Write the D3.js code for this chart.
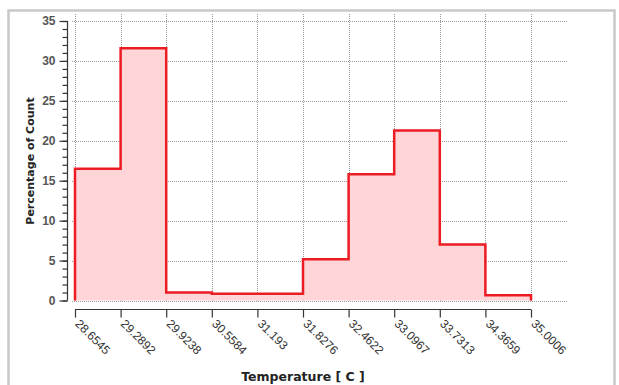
<!DOCTYPE html>
<html>
<head>
<meta charset="utf-8">
<script src="https://cdn.jsdelivr.net/npm/d3@7"></script>
<style>
    body { margin: 0; background: #fff; }
    svg { display: block; font-family: "DejaVu Sans", Verdana, sans-serif; }
</style>
</head>
<body>
<div id="chart"></div>
<script>
// bin edges (Temperature [ C ])
const binEdges = [28.6545, 29.2892, 29.9238, 30.5584, 31.193, 31.8276, 32.4622, 33.0967, 33.7313, 34.3659, 35.0006];
const edgeLabels = ['28.6545', '29.2892', '29.9238', '30.5584', '31.193', '31.8276', '32.4622', '33.0967', '33.7313', '34.3659', '35.0006'];
// percentage of count per bin
const percents = [16.5, 31.6, 1.0, 0.85, 0.85, 5.15, 15.8, 21.3, 7.0, 0.65];
const yTicks = [0, 5, 10, 15, 20, 25, 30, 35];

const width = 619, height = 385;

const svg = d3.select('#chart').append('svg')
    .attr('width', width)
    .attr('height', height);

// outer frame
svg.append('rect')
    .attr('x', 8.5).attr('y', 10.5)
    .attr('width', 606).attr('height', 390)
    .attr('fill', 'none')
    .attr('stroke', '#c8c8c8')
    .attr('stroke-width', 2.5);

const x = d3.scaleLinear()
    .domain([binEdges[0], binEdges[binEdges.length - 1]])
    .range([75, 531]);

const y = d3.scaleLinear()
    .domain([0, 35])
    .range([300.5, 21]);

// grid
const grid = svg.append('g')
    .attr('stroke', '#9a9a9a')
    .attr('stroke-width', 1)
    .attr('stroke-dasharray', '1,1');

grid.selectAll('.hgrid')
    .data(yTicks)
    .enter().append('line')
    .attr('x1', 72).attr('x2', 568)
    .attr('y1', d => Math.round(y(d)) + 0.5)
    .attr('y2', d => Math.round(y(d)) + 0.5);

grid.selectAll('.vgrid')
    .data(binEdges)
    .enter().append('line')
    .attr('x1', d => Math.round(x(d)) + 0.5)
    .attr('x2', d => Math.round(x(d)) + 0.5)
    .attr('y1', 14).attr('y2', 302);

// histogram step area
const pts = [[binEdges[0], 0]];
percents.forEach((p, i) => {
    pts.push([binEdges[i], p]);
    pts.push([binEdges[i + 1], p]);
});
pts.push([binEdges[binEdges.length - 1], 0]);

const area = d3.area()
    .x(d => x(d[0]))
    .y0(y(0))
    .y1(d => y(d[1]));

const line = d3.line()
    .x(d => x(d[0]))
    .y(d => y(d[1]));

svg.append('path')
    .datum(pts)
    .attr('d', area)
    .attr('fill', '#ffd5d7');

svg.append('path')
    .datum(pts)
    .attr('d', line)
    .attr('fill', 'none')
    .attr('stroke', '#ec1c24')
    .attr('stroke-width', 2.5);

// y axis
const yAxis = svg.append('g')
    .attr('transform', 'translate(67.5,0)')
    .call(d3.axisLeft(y).tickValues(yTicks).tickSize(8).tickFormat(d3.format('d')).tickPadding(4));
svg.append('g')
    .attr('transform', 'translate(67.5,0)')
    .call(d3.axisLeft(y).tickValues(d3.range(0, 36, 1)).tickSize(5).tickFormat(''))
    .call(g => g.select('.domain').remove());
yAxis.select('.domain').attr('d', `M0,${y(35)}V${y(0)}`);
svg.selectAll('.tick line, .domain').attr('stroke', '#333').attr('stroke-width', 1.2);
yAxis.selectAll('text')
    .attr('fill', '#555')
    .attr('font-size', 12)
    .attr('font-weight', 'bold');

// x axis
const xAxis = svg.append('g')
    .attr('transform', 'translate(0,309.5)')
    .call(d3.axisBottom(x).tickValues(binEdges).tickSize(8).tickFormat((d, i) => edgeLabels[i]));
xAxis.select('.domain').attr('d', `M${x(binEdges[0])},0H${x(binEdges[binEdges.length - 1])}`)
    .attr('stroke', '#333').attr('stroke-width', 1.2);
xAxis.selectAll('.tick line').attr('stroke', '#333').attr('stroke-width', 1.2);
xAxis.selectAll('text')
    .attr('fill', '#333')
    .attr('font-size', 12)
    .attr('text-anchor', 'start')
    .attr('dy', null)
    .attr('y', 0)
    .attr('transform', 'translate(-1,15) rotate(45)');

// axis titles
svg.append('text')
    .attr('transform', 'translate(34,161) rotate(-90)')
    .attr('text-anchor', 'middle')
    .attr('font-size', 11)
    .attr('font-weight', 'bold')
    .attr('fill', '#222')
    .text('Percentage of Count');

svg.append('text')
    .attr('x', 303).attr('y', 381)
    .attr('text-anchor', 'middle')
    .attr('font-size', 12.5)
    .attr('font-weight', 'bold')
    .attr('fill', '#222')
    .text('Temperature [ C ]');
</script>
</body>
</html>
